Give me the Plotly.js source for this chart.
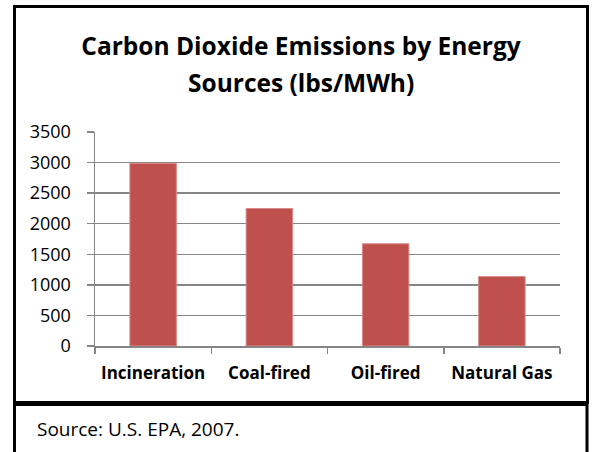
<!DOCTYPE html>
<html>
<head>
<meta charset="utf-8">
<script src="https://cdn.plot.ly/plotly-3.0.1.min.js"></script>
<style>html,body{margin:0;padding:0;background:#fff;}#chart{width:593px;height:452px;}</style>
</head>
<body>
<div id="chart"></div>
<script>
// Data
const categories = ["Incineration", "Coal-fired", "Oil-fired", "Natural Gas"];
const emissions = [2988, 2249, 1672, 1135];
const yTickVals = [0, 500, 1000, 1500, 2000, 2500, 3000, 3500];
const titleLine1 = "Carbon Dioxide Emissions by Energy";
const titleLine2 = "Sources (lbs/MWh)";
const sourceText = "Source: U.S. EPA, 2007.";

// Layout geometry (pixels)
const W = 593, H = 452;
const L = 95, R = 560, T = 132, B = 346;
const px = x => (x - L) / (R - L);
const py = y => (B - y) / (B - T);
const FONT = "'Open Sans', Lato, sans-serif";
const TITLE_FONT = { family: FONT, size: 24.5, color: "#000", weight: "bold" };

const trace = {
  type: "bar",
  x: categories,
  y: emissions,
  marker: { color: "#C0504D", line: { color: "#D88A88", width: 1 } },
  hoverinfo: "x+y"
};

const layout = {
  width: W, height: H,
  margin: { l: L, r: W - R, t: T, b: H - B, pad: 0 },
  paper_bgcolor: "#fff",
  plot_bgcolor: "#fff",
  showlegend: false,
  bargap: 0.6,
  title: {
    text: titleLine1,
    font: TITLE_FONT,
    x: 301 / W, xanchor: "center", xref: "container",
    y: 1 - 46 / H, yanchor: "middle", yref: "container"
  },
  xaxis: {
    type: "category",
    showline: true, linecolor: "#868686", linewidth: 1.5,
    ticks: "outside", tickson: "boundaries", ticklen: 6, tickcolor: "#868686", tickwidth: 1.5,
    ticklabelstandoff: 11,
    showgrid: false, zeroline: false,
    tickfont: { family: FONT, size: 17, color: "#000", weight: "bold" },
    fixedrange: true
  },
  yaxis: {
    range: [0, 3500],
    tickvals: yTickVals,
    ticktext: yTickVals.map(String),
    showline: true, linecolor: "#868686", linewidth: 1.5,
    ticks: "outside", ticklen: 7, tickcolor: "#868686", tickwidth: 1.5,
    ticklabelstandoff: 12,
    showgrid: true, gridcolor: "#868686", gridwidth: 1.5,
    zeroline: false,
    tickfont: { family: FONT, size: 18, color: "#000" },
    fixedrange: true
  },
  shapes: [
    { type: "rect", xref: "paper", yref: "paper",
      x0: px(14.5), x1: px(587.5), y0: py(6.5), y1: py(402.5),
      line: { color: "#000", width: 3 }, fillcolor: "rgba(0,0,0,0)", layer: "above" },
    { type: "rect", xref: "paper", yref: "paper",
      x0: px(14.5), x1: px(587), y0: py(404.5), y1: py(470),
      line: { color: "#000", width: 3 }, fillcolor: "rgba(0,0,0,0)", layer: "above" }
  ],
  annotations: [
    { text: titleLine2, xref: "paper", yref: "paper",
      x: px(301), y: py(82), xanchor: "center", yanchor: "middle",
      showarrow: false, font: TITLE_FONT },
    { text: sourceText, xref: "paper", yref: "paper",
      x: px(35), y: py(429), xanchor: "left", yanchor: "middle",
      showarrow: false, font: { family: FONT, size: 19, color: "#000" } }
  ]
};

Plotly.newPlot("chart", [trace], layout, { displayModeBar: false, staticPlot: true });
</script>
</body>
</html>
